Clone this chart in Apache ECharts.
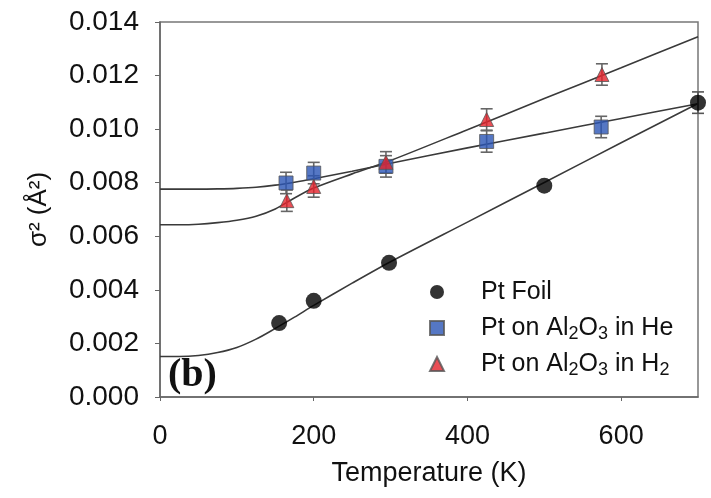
<!DOCTYPE html>
<html>
<head>
<meta charset="utf-8">
<script src="https://cdn.jsdelivr.net/npm/echarts@6/dist/echarts.min.js"></script>
<style>
html,body{margin:0;padding:0;background:#fff;}
#chart{width:711px;height:498px;}
</style>
</head>
<body>
<div id="chart"></div>
<script>
// ---- data ----
var xTicks = [0, 200, 400, 600];
var yTicks = [0, 0.002, 0.004, 0.006, 0.008, 0.010, 0.012, 0.014];

var foilT = [155, 200, 298, 500, 700];
var foilS = [0.00276, 0.00359, 0.00501, 0.00789, 0.01099];
var foilErr = [0, 0, 0, 0, 0.0004];

var heT = [164, 200, 294, 425, 574];
var heS = [0.00799, 0.00836, 0.00861, 0.00954, 0.01008];
var heErr = [0.0004, 0.0004, 0.0004, 0.0004, 0.0004];

var h2T = [165, 200, 294, 425, 575];
var h2S = [0.00733, 0.00786, 0.00876, 0.01036, 0.01204];
var h2Err = [0.0004, 0.0004, 0.0004, 0.0004, 0.0004];

// fitted curves
var fitT    = [0, 25, 50, 75, 100, 125, 150, 175, 200, 250, 300, 400, 500, 600, 700];
var foilFit = [0.00151, 0.00151, 0.00155, 0.00166, 0.00185, 0.00216, 0.00256, 0.00298, 0.00342, 0.00425, 0.00505, 0.00653, 0.00801, 0.00949, 0.01096];
var heFit   = [0.00776, 0.00776, 0.00776, 0.00777, 0.00779, 0.00783, 0.00791, 0.00802, 0.00815, 0.00843, 0.00873, 0.00930, 0.00985, 0.01040, 0.01095];
var h2Fit   = [0.00643, 0.00643, 0.00645, 0.00651, 0.00660, 0.00675, 0.00702, 0.00743, 0.00780, 0.00833, 0.00883, 0.00998, 0.01114, 0.01229, 0.01345];

var names = ['Pt Foil', 'Pt on Al2O3 in He', 'Pt on Al2O3 in H2'];

function pairs(xs, ys) { return xs.map(function (x, i) { return [x, ys[i]]; }); }
function errData(xs, ys, es) {
  var out = [];
  xs.forEach(function (x, i) { if (es[i] > 0) out.push([x, ys[i] - es[i], ys[i] + es[i]]); });
  return out;
}
function errSeries(data, color) {
  return {
    type: 'custom', silent: true, z: 3,
    data: data,
    encode: { x: 0, y: [1, 2] },
    renderItem: function (params, api) {
      var lo = api.coord([api.value(0), api.value(1)]);
      var hi = api.coord([api.value(0), api.value(2)]);
      var hw = 6;
      var st = { stroke: color, lineWidth: 1.6 };
      return {
        type: 'group',
        children: [
          { type: 'line', shape: { x1: lo[0], y1: lo[1], x2: hi[0], y2: hi[1] }, style: st },
          { type: 'line', shape: { x1: lo[0] - hw, y1: lo[1], x2: lo[0] + hw, y2: lo[1] }, style: st },
          { type: 'line', shape: { x1: hi[0] - hw, y1: hi[1], x2: hi[0] + hw, y2: hi[1] }, style: st }
        ]
      };
    }
  };
}
function fitSeries(ys) {
  return {
    type: 'line', data: pairs(fitT, ys), showSymbol: false, smooth: 0.3, silent: true, z: 2,
    lineStyle: { color: '#3a3a3a', width: 1.6 }
  };
}

var chart = echarts.init(document.getElementById('chart'), null, { renderer: 'canvas' });
var font = '"Liberation Sans", Arial, sans-serif';

chart.setOption({
  animation: false,
  backgroundColor: '#ffffff',
  grid: { left: 160, right: 13, top: 22, bottom: 101, show: true, borderColor: '#777', borderWidth: 1.5 },
  xAxis: {
    type: 'value', min: 0, max: 700, interval: 200,
    name: 'Temperature (K)', nameLocation: 'middle', nameGap: 63,
    nameTextStyle: { fontFamily: font, fontSize: 27, color: '#111' },
    axisLine: { show: true, lineStyle: { color: '#666', width: 1.5 } },
    axisTick: { show: true, length: 4, lineStyle: { color: '#666' } },
    axisLabel: { fontFamily: font, fontSize: 27, color: '#111', margin: 26, showMaxLabel: false,
      formatter: function (v) { return xTicks.indexOf(v) >= 0 ? String(v) : ''; } },
    splitLine: { show: false }
  },
  yAxis: {
    type: 'value', min: 0, max: 0.014, interval: 0.002,
    name: 'σ² (Å²)', nameLocation: 'middle', nameGap: 108, nameRotate: 90,
    nameTextStyle: { fontFamily: font, fontSize: 26, color: '#111' },
    axisLine: { show: true, lineStyle: { color: '#666', width: 1.5 } },
    axisTick: { show: true, length: 5, lineStyle: { color: '#666' } },
    axisLabel: { fontFamily: font, fontSize: 28, color: '#111', margin: 21,
      formatter: function (v) {
        for (var i = 0; i < yTicks.length; i++) { if (Math.abs(yTicks[i] - v) < 1e-9) return yTicks[i].toFixed(3); }
        return '';
      } },
    splitLine: { show: false }
  },
  legend: {
    orient: 'vertical', left: 424, top: 272, itemGap: 6, itemWidth: 14, itemHeight: 14,
    data: names,
    textStyle: {
      fontFamily: font, fontSize: 25, color: '#111', padding: [0, 0, 0, 32], lineHeight: 30,
      rich: {
        s: { fontFamily: font, fontSize: 18, color: '#111', padding: [12, 0, 0, 0], lineHeight: 30 }
      }
    },
    formatter: function (n) {
      return n.replace('Al2O3', 'Al{s|2}O{s|3}').replace(/H2$/, 'H{s|2}');
    }
  },
  graphic: [
    { type: 'text', left: 168, top: 356, style: { text: '(b)', font: 'bold 40px "Liberation Serif", "Times New Roman", serif', fill: '#111' } }
  ],
  series: [
    fitSeries(foilFit),
    fitSeries(heFit),
    fitSeries(h2Fit),
    errSeries(errData(foilT, foilS, foilErr), '#555'),
    errSeries(errData(heT, heS, heErr), '#666'),
    errSeries(errData(h2T, h2S, h2Err), '#666'),
    { name: names[0], type: 'scatter', data: pairs(foilT, foilS), symbol: 'circle', symbolSize: 16, z: 5,
      itemStyle: { color: '#000' } },
    { name: names[1], type: 'scatter', data: pairs(heT, heS), symbol: 'rect', symbolSize: 14, z: 5,
      itemStyle: { color: '#2a55b5', borderColor: '#555', borderWidth: 1 } },
    { name: names[2], type: 'scatter', data: pairs(h2T, h2S), symbol: 'triangle', symbolSize: 14, z: 6,
      itemStyle: { color: '#e4222a', borderColor: '#555', borderWidth: 1 } }
  ]
});
</script>
</body>
</html>
